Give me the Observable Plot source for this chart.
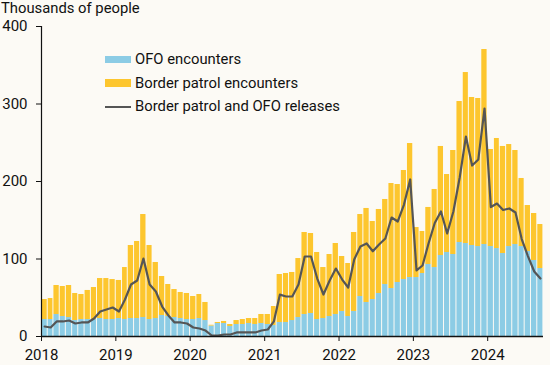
<!DOCTYPE html>
<html><head><meta charset="utf-8">
<script src="https://cdn.jsdelivr.net/npm/d3@7"></script>
<script src="https://cdn.jsdelivr.net/npm/@observablehq/plot@0.6"></script>
<style>
body{margin:0;background:#fcfaf5;font-family:Roboto,sans-serif;color:#111;}
#wrap{position:relative;width:550px;height:365px;overflow:hidden;}
#title{position:absolute;left:1px;top:1px;font-size:14.8px;line-height:15px;white-space:nowrap;}
.sw{position:absolute;left:105px;width:26px;}
.lt{position:absolute;left:135px;font-size:14.8px;line-height:15px;white-space:nowrap;}
</style></head><body>
<div id="wrap">
<div id="chart"></div>
<div id="title">Thousands of people</div>
<div class="sw" style="top:56px;height:7px;background:#8ccce5"></div>
<div class="lt" style="top:52px">OFO encounters</div>
<div class="sw" style="top:79px;height:8px;background:#fdc62e"></div>
<div class="lt" style="top:76px">Border patrol encounters</div>
<div class="sw" style="top:105.5px;height:2px;background:#555"></div>
<div class="lt" style="top:99px">Border patrol and OFO releases</div>
</div>
<script>
// Monthly values, Jan 2018 – Sep 2024, thousands of people
const totalEncounters = [
 47.7, 49, 65.8, 64.5, 65.8, 55.5, 54.2, 59.4, 63.2, 74.8, 74.8, 73.5,
 72.3, 89, 117.4, 122.6, 157.4, 117.4, 95.5, 77.4, 67.1, 60.6, 56.8, 55.5,
 51.6, 54.2, 43.9, 14.5, 18.1, 19.4, 15.5, 20.6, 21.9, 23.2, 23.2, 28.4,
 28.4, 38.7, 80, 81.3, 82.6, 100.6, 134.2, 132.9, 108.4, 89, 105.8, 120,
 103.2, 94.2, 134.2, 157.4, 165.2, 148.4, 163.9, 176.8, 197.4, 196.1, 214.2, 249,
 140.6, 135.5, 166.5, 189.7, 245.2, 209, 240, 303.2, 340.6, 308.4, 307.1, 370.3,
 241.3, 255.5, 245.2, 247.7, 240, 203.9, 169, 158.7, 144.5
];
const ofoEncounters = [
 21.9, 21.9, 28.4, 25.8, 24.5, 20.6, 21.9, 21.9, 21.9, 23.2, 21.9, 21.9,
 23.2, 21.9, 23.2, 23.2, 24.5, 21.9, 23.2, 27.1, 25.8, 24.5, 23.2, 21.9,
 21.9, 23.2, 20.6, 13.5, 16.8, 16.8, 12.9, 15.5, 15.5, 16.8, 15.5, 16.8,
 15.5, 14.2, 18.1, 18.1, 20.6, 24.5, 28.4, 29.7, 21.9, 23.2, 25.8, 28.4,
 32.3, 25.8, 32.3, 51.6, 43.9, 47.7, 55.5, 67.1, 61.9, 69.7, 73.5, 76.1,
 76.1, 81.3, 92.9, 89, 104.5, 108.4, 105.8, 121.3, 120, 117.4, 116.1, 118.7,
 116.1, 113.5, 107.1, 116.1, 118.7, 116.1, 109.7, 98.1, 87.7
];
const releases = [
 12.9, 11.6, 19.4, 19.4, 20.6, 16.8, 18.1, 18.1, 23.2, 32.3, 34.8, 37.4,
 32.3, 47.7, 67.1, 72.3, 100.6, 67.1, 58.1, 38.7, 27.1, 18.1, 18.1, 16.8,
 11.6, 10.3, 7.7, 1.3, 1.3, 2.6, 2.6, 5.2, 5.2, 5.2, 5.2, 7.7,
 9.0, 19.4, 54, 51.6, 51.6, 67.1, 103.2, 103.2, 74.8, 54.2, 72.3, 87.7,
 73.5, 63.2, 99.4, 116.1, 120, 110, 118.7, 126.5, 153.5, 148.4, 170.3, 202.6,
 85.2, 91.6, 120, 146.5, 161.3, 132.9, 161.3, 205.2, 258, 220.6, 228.4, 294.2,
 167, 171.6, 163.2, 165.2, 160, 125.8, 103.8, 83.9, 74.8
];
const yearTicks = [2018, 2019, 2020, 2021, 2022, 2023, 2024];
const yTicks = [0, 100, 200, 300, 400];

const start = new Date(Date.UTC(2018, 0, 1));
const end = new Date(Date.UTC(2024, 9, 1));
const months = d3.utcMonths(start, end);
const rows = months.map((d, i) => {
  const next = d3.utcMonth.offset(d, 1);
  return {
    date: d, next, mid: new Date((+d + +next) / 2),
    ofo: ofoEncounters[i], total: totalEncounters[i], rel: releases[i]
  };
});

const chart = Plot.plot({
  width: 550, height: 365,
  marginLeft: 41, marginRight: 7, marginTop: 26, marginBottom: 29,
  style: {background: "#fcfaf5", fontFamily: "Roboto, sans-serif", fontSize: "15px", color: "#111"},
  x: {type: "utc", domain: [start, end]},
  y: {domain: [0, 400]},
  marks: [
    Plot.rectY(rows, {x1: "date", x2: "next", y1: 0, y2: "ofo", fill: "#8ccce5", insetLeft: 0.4, insetRight: 0.6}),
    Plot.rectY(rows, {x1: "date", x2: "next", y1: "ofo", y2: "total", fill: "#fdc62e", insetLeft: 0.4, insetRight: 0.6}),
    Plot.line(rows, {x: "mid", y: "rel", stroke: "#555", strokeWidth: 2.2}),
    Plot.ruleY([0], {stroke: "#111", strokeWidth: 1.5}),
    Plot.ruleX([start], {stroke: "#111", strokeWidth: 1.2}),
    Plot.axisY({ticks: yTicks, tickSize: 5, tickPadding: 9, label: null, fontSize: 15}),
    Plot.axisX({ticks: yearTicks.map(y => new Date(Date.UTC(y, 0, 1))), tickFormat: d3.utcFormat("%Y"), tickSize: 5, tickPadding: 8, label: null, fontSize: 15})
  ]
});
document.getElementById("chart").appendChild(chart);
</script>
</body></html>
